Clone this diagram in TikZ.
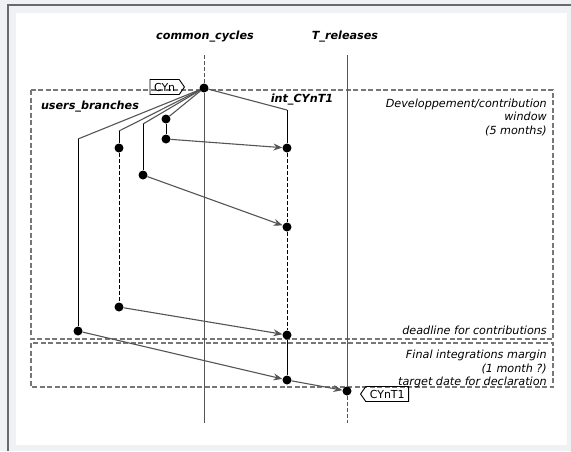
\documentclass[tikz,border=0pt]{standalone}
\usepackage{fontspec}
\setmainfont{DejaVu Sans}
\usepackage{tikz}
\usetikzlibrary{positioning,arrows.meta,calc,shapes.symbols}
\definecolor{pagegray}{HTML}{EEF2F5}
\definecolor{framegray}{HTML}{6A6A6A}
\definecolor{linegray}{HTML}{555555}
\definecolor{boxgray}{HTML}{777777}
\tikzset{
    x=1pt,
    y=-1pt,
    dot/.style = {
        shape=circle,
        fill=black,
        inner sep=0pt,
        minimum size=9pt
    },
    head/.style = {
        font=\fontsize{11.2}{13}\selectfont\bfseries\itshape
    },
    note/.style = {
        font=\fontsize{11.2}{13.5}\selectfont\itshape,
        align=right,
        anchor=east,
        inner sep=0pt
    },
    tag/.style = {
        draw,
        shape=signal,
        signal pointer angle=110,
        font=\fontsize{11}{12}\selectfont,
        inner xsep=4pt,
        inner ysep=2pt,
        minimum height=15pt,
        line width=0.9pt
    },
    window/.style = {
        draw=boxgray,
        line width=1.3pt,
        dash pattern=on 5pt off 2.5pt
    },
    lane/.style = {
        draw=black,
        line width=0.9pt
    },
    fork/.style = {
        draw=linegray,
        line width=1.1pt
    },
    dashlane/.style = {
        draw=black,
        line width=0.9pt,
        dash pattern=on 4pt off 2pt
    },
    >={Stealth[length=9pt,width=7pt,inset=3pt]},
}

\begin{document}
\begin{tikzpicture}
            % page
            \useasboundingbox[fill=pagegray] (0,0) rectangle (571,451);
            \fill[white] (16,13) rectangle (567,445);
            \draw[framegray, line width=2pt] (8,451) -- (8,5) -- (571,5);

            % windows
            \path[window] (31,90) rectangle (553,339);
            \path[window] (31,343) rectangle (553,387);
            \node[note] (devwin) at (547,117) {Developpement/contribution\\window\\(5 months)};
            \node[note] (deadline) at (547,330) {deadline for contributions};
            \node[note] (finalwin) at (547,369) {Final integrations margin\\(1 month ?)\\target date for declaration};

            % lane heads
            \node[head] (cc) at (205,37) {common\_cycles};
            \node[head] (tr) at (345,37) {T\_releases};
            \node[head] (int) at (302,100) {int\_CYnT1};
            \node[head] (ub) at (90,107) {users\_branches};

            % dots
            \node[dot] (cyn) at (204,88) {};
            \node[dot] (cynt1) at (347,391) {};
            \node[dot] (i1) at (287,148) {};
            \node[dot] (i2) at (287,227) {};
            \node[dot] (i3) at (287,335) {};
            \node[dot] (i4) at (287,380) {};
            \node[dot] (a1) at (166,119) {};
            \node[dot] (a2) at (166,139) {};
            \node[dot] (b1) at (143,175) {};
            \node[dot] (c1) at (119,148) {};
            \node[dot] (c2) at (119,307) {};
            \node[dot] (d1) at (78,331) {};

            % bends and lane ends
            \coordinate (cctop) at (204,55);
            \coordinate (ccbot) at (204,423);
            \coordinate (trtop) at (347,55);
            \coordinate (trbot) at (347,423);
            \coordinate (ik) at (287,110);
            \coordinate (bk) at (143,124);
            \coordinate (ck) at (119,131);
            \coordinate (dk) at (78,139);

            % tags
            \node[tag, signal to=east, anchor=east] (cyntag) at (185,87) {CYn};
            \node[tag, signal to=west, anchor=west] (cynt1tag) at (360,394) {CYnT1};

            % lanes
            \path[dashlane, draw=linegray] (cctop) -- (cyn);
            \path[lane, draw=linegray] (cyn) -- (ccbot);
            \path[lane, draw=linegray] (trtop) -- (cynt1);
            \path[dashlane, draw=linegray] (cynt1) -- (trbot);

            % forks from CYn
            \path[fork] (cyn) -- (ik);
            \path[lane] (ik) -- (i1);
            \path[dashlane] (i1) -- (i2) -- (i3);
            \path[lane] (i3) -- (i4);
            \path[fork] (cyn) -- (a1);
            \path[lane] (a1) -- (a2);
            \path[fork] (cyn) -- (bk);
            \path[lane] (bk) -- (b1);
            \path[fork] (cyn) -- (ck);
            \path[lane] (ck) -- (c1);
            \path[dashlane] (c1) -- (c2);
            \path[fork] (cyn) -- (dk);
            \path[lane] (dk) -- (d1);

            % merges
            \path[fork, ->] (a2) -- (i1);
            \path[fork, ->] (b1) -- (i2);
            \path[fork, ->] (c2) -- (i3);
            \path[fork, ->] (d1) -- (i4);
            \path[fork, ->] (i4) -- (cynt1);
        \end{tikzpicture}
\end{document}
